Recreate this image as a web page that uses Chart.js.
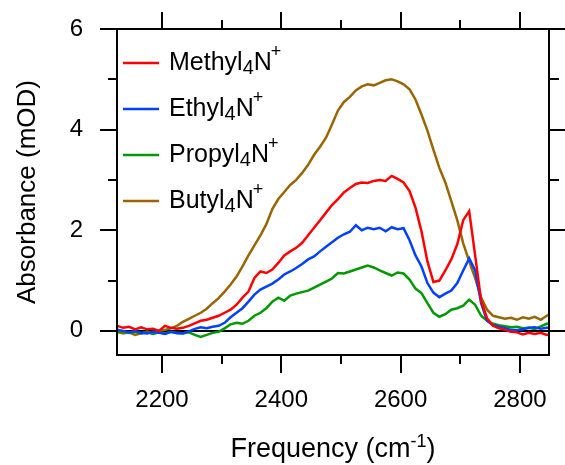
<!DOCTYPE html>
<html><head><meta charset="utf-8">
<script src="https://cdn.jsdelivr.net/npm/chart.js@4"></script>
<style>html,body{margin:0;padding:0;background:#fff}canvas{display:block}</style>
</head><body>
<canvas id="c" width="565" height="465"></canvas>
<script>
const frequency = [2125,2135,2145,2155,2165,2175,2185,2195,2205,2215,2225,2235,2245,2255,2265,2275,2285,2295,2305,2315,2325,2335,2345,2355,2365,2375,2385,2395,2405,2415,2425,2435,2445,2455,2465,2475,2485,2495,2505,2515,2525,2535,2545,2555,2565,2575,2585,2595,2605,2615,2625,2635,2645,2655,2665,2675,2685,2695,2705,2715,2725,2735,2745,2755,2765,2775,2785,2795,2805,2815,2825,2835,2845,2850];
const methyl = [0.1,0.06,0.08,0.03,0.07,0.03,0.04,0.0,0.1,0.06,
 0.04,0.06,0.1,0.15,0.2,0.22,0.26,0.3,0.36,0.42,
 0.52,0.66,0.78,1.05,1.18,1.15,1.22,1.35,1.5,1.58,
 1.65,1.75,1.9,2.05,2.2,2.35,2.5,2.62,2.75,2.84,
 2.92,2.95,2.94,2.98,3.0,2.98,3.08,3.02,2.95,2.78,
 2.45,1.98,1.38,0.97,1.0,1.2,1.42,1.72,2.2,2.38,
 1.5,0.6,0.25,0.1,0.05,0.02,-0.02,-0.03,-0.07,-0.04,
 -0.06,-0.04,-0.08,-0.07];
const ethyl = [0.02,0.0,-0.03,0.0,-0.04,-0.05,-0.02,-0.04,-0.06,-0.02,
 -0.05,-0.05,-0.01,0.04,0.07,0.05,0.08,0.1,0.16,0.27,
 0.36,0.45,0.58,0.72,0.82,0.88,0.94,1.02,1.12,1.18,
 1.25,1.33,1.42,1.48,1.58,1.67,1.76,1.85,1.92,1.97,
 2.1,2.0,2.05,2.02,2.05,1.98,2.06,2.02,2.04,1.8,
 1.5,1.28,0.95,0.76,0.67,0.74,0.8,0.95,1.2,1.44,
 1.2,0.55,0.2,0.11,0.08,0.05,0.02,0.01,0.03,0.06,
 0.07,0.04,0.06,0.07];
const propyl = [-0.03,-0.01,-0.04,-0.02,-0.05,-0.03,-0.06,-0.03,-0.05,-0.02,
 -0.04,-0.05,-0.03,-0.08,-0.12,-0.08,-0.04,-0.02,0.05,0.13,
 0.16,0.14,0.2,0.3,0.36,0.45,0.58,0.66,0.6,0.7,
 0.74,0.77,0.8,0.86,0.92,0.98,1.04,1.15,1.14,1.18,
 1.22,1.26,1.3,1.26,1.2,1.15,1.1,1.16,1.14,1.02,
 0.84,0.75,0.55,0.36,0.28,0.33,0.42,0.45,0.5,0.62,
 0.52,0.3,0.2,0.14,0.11,0.09,0.07,0.08,0.05,0.06,
 0.04,0.09,0.14,0.15];
const butyl = [-0.02,-0.05,-0.03,-0.08,-0.05,-0.02,-0.04,0.0,0.02,0.05,
 0.1,0.18,0.24,0.3,0.36,0.44,0.55,0.65,0.78,0.92,
 1.08,1.28,1.5,1.7,1.9,2.12,2.42,2.62,2.76,2.9,
 3.0,3.14,3.3,3.5,3.66,3.84,4.1,4.38,4.55,4.65,
 4.78,4.86,4.9,4.88,4.93,4.98,5.0,4.96,4.9,4.8,
 4.6,4.3,3.98,3.6,3.24,2.95,2.58,2.2,1.74,1.38,
 1.05,0.66,0.42,0.3,0.27,0.24,0.26,0.22,0.27,0.24,
 0.28,0.22,0.3,0.33];
const seriesNames = ['Methyl','Ethyl','Propyl','Butyl'];
const seriesColors = ['#ff0000','#0040ff','#009900','#996600'];
const xMajorTicks = [2200,2400,2600,2800];
const xMinorTicks = [2300,2500,2700];
const yMajorTicks = [0,2,4,6];
const yMinorTicks = [1,3,5];

const FONT = '"Liberation Sans", Arial, sans-serif';
const seriesValues = [methyl, ethyl, propyl, butyl];

function drawSpeciesLabel(ctx, name, x, y) {
  ctx.textAlign = 'left';
  ctx.textBaseline = 'alphabetic';
  ctx.font = '25px ' + FONT;
  ctx.fillText(name, x, y);
  x += ctx.measureText(name).width;
  ctx.font = '20px ' + FONT;
  ctx.fillText('4', x, y + 4);
  x += ctx.measureText('4').width;
  ctx.font = '25px ' + FONT;
  ctx.fillText('N', x, y);
  x += ctx.measureText('N').width;
  ctx.font = '18px ' + FONT;
  ctx.fillText('+', x - 1, y - 13);
}

function noPad(s) { s.paddingTop = 0; s.paddingBottom = 0; s.paddingLeft = 0; s.paddingRight = 0; }

const framePlugin = {
  id: 'frame',
  beforeDatasetsDraw(chart) {
    const ctx = chart.ctx, a = chart.chartArea, ys = chart.scales.y;
    ctx.save();
    ctx.strokeStyle = '#000'; ctx.lineWidth = 2;
    const y0 = Math.round(ys.getPixelForValue(0));
    ctx.beginPath(); ctx.moveTo(a.left, y0); ctx.lineTo(a.right, y0); ctx.stroke();
    ctx.restore();
  },
  afterDraw(chart) {
    const ctx = chart.ctx, a = chart.chartArea, xs = chart.scales.x, ys = chart.scales.y;
    ctx.save();
    ctx.strokeStyle = '#000'; ctx.lineWidth = 2; ctx.lineCap = 'butt';
    ctx.beginPath();
    ctx.moveTo(a.left, a.top); ctx.lineTo(a.right, a.top); ctx.lineTo(a.right, a.bottom);
    ctx.lineTo(a.left, a.bottom); ctx.closePath();
    ctx.stroke();
    ctx.beginPath();
    xMajorTicks.forEach(v => { const p = Math.round(xs.getPixelForValue(v));
      ctx.moveTo(p, a.bottom); ctx.lineTo(p, a.bottom + 18);
      ctx.moveTo(p, a.top); ctx.lineTo(p, a.top - 17); });
    xMinorTicks.forEach(v => { const p = Math.round(xs.getPixelForValue(v));
      ctx.moveTo(p, a.bottom); ctx.lineTo(p, a.bottom + 9);
      ctx.moveTo(p, a.top); ctx.lineTo(p, a.top - 9); });
    yMajorTicks.forEach(v => { const p = Math.round(ys.getPixelForValue(v));
      ctx.moveTo(a.left, p); ctx.lineTo(a.left - 17, p);
      ctx.moveTo(a.right, p); ctx.lineTo(a.right + 17, p); });
    yMinorTicks.forEach(v => { const p = Math.round(ys.getPixelForValue(v));
      ctx.moveTo(a.left, p); ctx.lineTo(a.left - 9, p);
      ctx.moveTo(a.right, p); ctx.lineTo(a.right + 10, p); });
    ctx.stroke();

    // legend
    ctx.fillStyle = '#000';
    seriesNames.forEach((n, i) => {
      const by = 70 + i * 46;
      ctx.strokeStyle = seriesColors[i]; ctx.lineWidth = 2.5;
      ctx.beginPath(); ctx.moveTo(a.left + 6, by - 7); ctx.lineTo(a.left + 42, by - 7); ctx.stroke();
      drawSpeciesLabel(ctx, n, a.left + 52, by);
    });

    // y title
    ctx.save();
    ctx.translate(35, (a.top + a.bottom) / 2);
    ctx.rotate(-Math.PI / 2);
    ctx.font = '26px ' + FONT; ctx.textAlign = 'center'; ctx.textBaseline = 'alphabetic';
    ctx.fillText('Absorbance (mOD)', 0, 0);
    ctx.restore();

    // x title with superscript
    const t1 = 'Frequency (cm', t2 = '-1', t3 = ')';
    ctx.font = '27px ' + FONT; const w1 = ctx.measureText(t1).width, w3 = ctx.measureText(t3).width;
    ctx.font = '18px ' + FONT; const w2 = ctx.measureText(t2).width;
    let x = (a.left + a.right) / 2 - (w1 + w2 + w3) / 2;
    const base = 457;
    ctx.textAlign = 'left'; ctx.textBaseline = 'alphabetic';
    ctx.font = '27px ' + FONT; ctx.fillText(t1, x, base); x += w1;
    ctx.font = '18px ' + FONT; ctx.fillText(t2, x, base - 10); x += w2;
    ctx.font = '27px ' + FONT; ctx.fillText(t3, x, base);
    ctx.restore();
  }
};

new Chart(document.getElementById('c'), {
  type: 'line',
  data: {
    datasets: seriesNames.map((n, i) => ({
      label: n + '4N+',
      data: frequency.map((f, j) => ({ x: f, y: seriesValues[i][j] })),
      borderColor: seriesColors[i],
      borderWidth: 2.5,
      pointRadius: 0,
      tension: 0,
      fill: false
    }))
  },
  options: {
    responsive: false,
    animation: false,
    events: [],
    layout: { padding: { top: 29, right: 16, left: 0, bottom: 0 } },
    plugins: { legend: { display: false }, tooltip: { enabled: false } },
    scales: {
      x: {
        type: 'linear', min: 2124.6, max: 2848.8,
        afterBuildTicks: s => { s.ticks = xMajorTicks.map(v => ({ value: v })); },
        afterFit: s => { s.height = 110; noPad(s); },
        grid: { display: false },
        border: { display: false },
        ticks: { autoSkip: false, maxRotation: 0, color: '#000', padding: 23,
                 callback: v => String(v),
                 font: { family: FONT, size: 24 } }
      },
      y: {
        type: 'linear', min: -0.48, max: 6,
        afterBuildTicks: s => { s.ticks = yMajorTicks.map(v => ({ value: v })); },
        afterFit: s => { s.width = 117; noPad(s); },
        grid: { display: false },
        border: { display: false },
        ticks: { autoSkip: false, color: '#000', padding: 26,
                 callback: v => String(v),
                 font: { family: FONT, size: 24 } }
      }
    }
  },
  plugins: [framePlugin]
});
</script>
</body></html>
